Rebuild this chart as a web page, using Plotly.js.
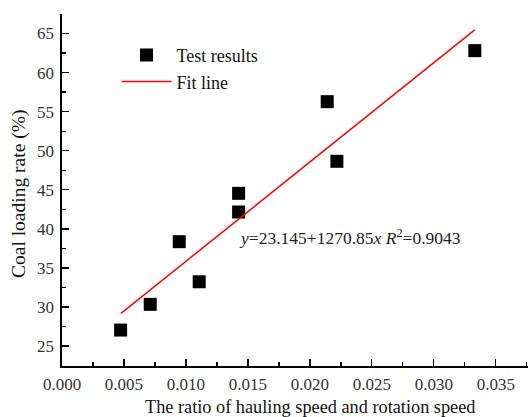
<!DOCTYPE html>
<html>
<head>
<meta charset="utf-8">
<script src="https://cdn.plot.ly/plotly-3.0.1.min.js"></script>
<style>html,body{margin:0;padding:0;background:#fff;}#chart{width:528px;height:417px;}</style>
</head>
<body>
<div id="chart"></div>
<script>
// Data
const ratio = [0.00473, 0.00712, 0.00946, 0.01107, 0.01425, 0.01425, 0.02140, 0.02218, 0.03331];
const loadingRate = [27.05, 30.34, 38.36, 33.23, 44.55, 42.16, 56.28, 48.65, 62.81];
const fitX = [0.00476, 0.0333];
const fitY = [29.19, 65.46];
const xTicks = [0.000, 0.005, 0.010, 0.015, 0.020, 0.025, 0.030, 0.035];
const xTickText = ['0.000', '0.005', '0.010', '0.015', '0.020', '0.025', '0.030', '0.035'];
const yTicks = [25, 30, 35, 40, 45, 50, 55, 60, 65];
const seriesNames = ['Test results', 'Fit line'];
const xTitle = 'The ratio of hauling speed and rotation speed';
const yTitle = 'Coal loading rate (%)';
const equation = '<i>y</i>=23.145+1270.85<i>x</i> <i>R</i><sup>2</sup>=0.9043';

const font = 'Liberation Serif, Times New Roman, serif';

const traces = [
  {
    x: ratio, y: loadingRate, type: 'scatter', mode: 'markers', name: seriesNames[0],
    marker: {symbol: 'square', size: 13, color: '#000'}
  },
  {
    x: fitX, y: fitY, type: 'scatter', mode: 'lines', name: seriesNames[1],
    line: {color: '#ff0000', width: 1.5}
  }
];

const layout = {
  width: 528, height: 417,
  margin: {l: 62, r: 0, t: 14, b: 51},
  paper_bgcolor: '#fff', plot_bgcolor: '#fff',
  font: {family: font, color: '#222', size: 16},
  showlegend: true,
  legend: {
    x: 0.117, y: 0.935, xanchor: 'left', yanchor: 'top',
    bgcolor: 'rgba(0,0,0,0)', font: {family: font, size: 18, color: '#111'},
    tracegroupgap: 0, itemwidth: 50
  },
  xaxis: {
    range: [0, 0.0376], tickvals: xTicks, ticktext: xTickText,
    ticks: 'inside', ticklen: 7, tickwidth: 1.3, tickcolor: '#000',
    minor: {dtick: 0.0025, ticks: 'inside', ticklen: 4, tickwidth: 1.3, tickcolor: '#000'},
    showline: true, linecolor: '#000', linewidth: 1.6, showgrid: false, zeroline: false,
    ticklabelstandoff: 2,
    tickfont: {family: font, size: 17, color: '#333'}
  },
  yaxis: {
    range: [22.45, 67.5], tickvals: yTicks,
    ticks: 'inside', ticklen: 7, tickwidth: 1.3, tickcolor: '#000',
    minor: {dtick: 2.5, ticks: 'inside', ticklen: 4, tickwidth: 1.3, tickcolor: '#000'},
    showline: true, linecolor: '#000', linewidth: 1.6, showgrid: false, zeroline: false,
    ticklabelstandoff: 3,
    tickfont: {family: font, size: 17, color: '#333'}
  },
  annotations: [
    {text: equation, xref: 'x', yref: 'y', x: 0.01411, y: 38.96, xanchor: 'left', yanchor: 'middle',
     showarrow: false, font: {family: font, size: 17.5, color: '#222'}},
    {text: xTitle, xref: 'paper', yref: 'paper', x: (310 - 62) / 466, y: -(407 - 366) / 352, xanchor: 'center', yanchor: 'middle',
     showarrow: false, font: {family: font, size: 18.3, color: '#111'}},
    {text: yTitle, xref: 'paper', yref: 'paper', x: -(62 - 19) / 466, y: (366 - 194) / 352, xanchor: 'center', yanchor: 'middle',
     textangle: -90, showarrow: false, font: {family: font, size: 19.5, color: '#111'}}
  ]
};

Plotly.newPlot('chart', traces, layout, {displayModeBar: false, staticPlot: true});
</script>
</body>
</html>
